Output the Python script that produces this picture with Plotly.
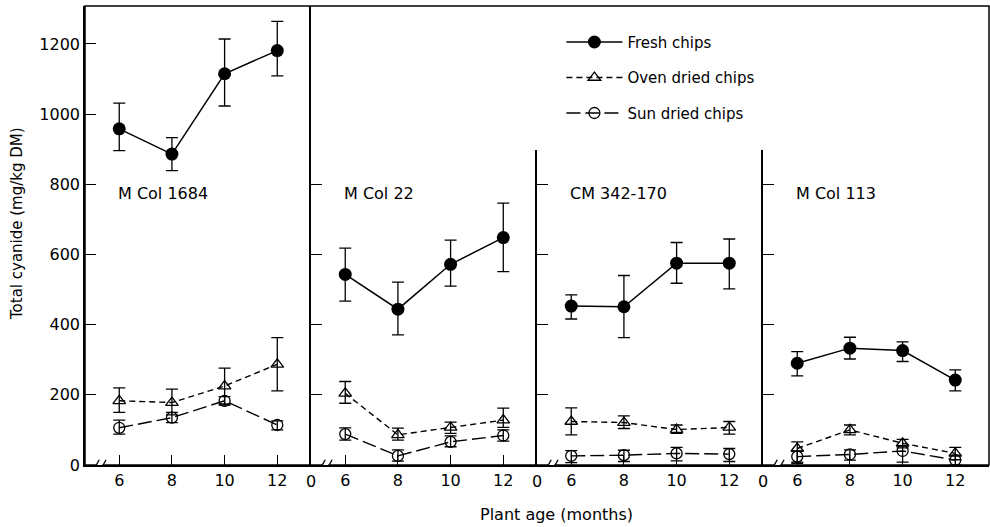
import plotly.graph_objects as go

# ---------------- data ----------------
months = [6, 8, 10, 12]
cultivars = ["M Col 1684", "M Col 22", "CM 342-170", "M Col 113"]

fresh = [[958, 886, 1115, 1181], [543, 444, 572, 648], [453, 451, 575, 575], [290, 333, 326, 242]]
fresh_up = [[73, 47, 99, 83], [75, 77, 69, 98], [32, 89, 59, 69], [33, 31, 25, 29]]
fresh_dn = [[62, 47, 92, 72], [76, 73, 62, 97], [37, 88, 57, 73], [36, 31, 31, 31]]

oven = [[183, 178, 225, 287], [204, 86, 107, 128], [124, 121, 101, 107], [47, 100, 62, 33]]
oven_up = [[37, 38, 51, 76], [34, 19, 15, 34], [39, 19, 13, 17], [19, 14, 11, 17]]
oven_dn = [[33, 35, 51, 76], [28, 15, 17, 21], [38, 17, 11, 19], [42, 14, 13, 18]]

sun = [[106, 135, 183, 114], [88, 26, 66, 84], [26, 28, 33, 31], [24, 30, 40, 14]]
sun_up = [[22, 15, 12, 12], [18, 17, 17, 16], [15, 14, 17, 16], [16, 13, 15, 14]]
sun_dn = [[18, 14, 12, 14], [17, 15, 14, 16], [19, 18, 21, 21], [16, 16, 32, 14]]

y_ticks_main = [0, 200, 400, 600, 800, 1000, 1200]
y_ticks_inner = [200, 400, 600, 800]

FONT = "DejaVu Sans"
X_RANGE = [4.7, 13.28]
Y_MAX = 1308
SHORT_FRAC = 0.6863

series = [
    ("Fresh chips", fresh, fresh_up, fresh_dn,
     dict(symbol="circle", size=13, color="black"),
     dict(color="black", width=1.5)),
    ("Oven dried chips", oven, oven_up, oven_dn,
     dict(symbol="triangle-up-open", size=11, color="black", line=dict(width=1.3, color="black")),
     dict(color="black", width=1.4, dash="6px,4px")),
    ("Sun dried chips", sun, sun_up, sun_dn,
     dict(symbol="circle-open", size=11, color="black", line=dict(width=1.3, color="black")),
     dict(color="black", width=1.4, dash="14px,5px")),
]

fig = go.Figure()
for p in range(4):
    xa = "x" if p == 0 else f"x{p+1}"
    ya = "y" if p == 0 else f"y{p+1}"
    for name, vals, up, dn, mk, ln in series:
        fig.add_trace(go.Scatter(
            x=months, y=vals[p], mode="lines+markers", name=name,
            legendgroup=name, showlegend=(p == 0),
            marker=mk, line=ln, xaxis=xa, yaxis=ya,
            error_y=dict(type="data", symmetric=False, array=up[p], arrayminus=dn[p],
                         color="black", thickness=1.3, width=6),
        ))

layout = dict(
    width=990, height=527,
    margin=dict(l=85, r=1, t=6, b=62),
    paper_bgcolor="white", plot_bgcolor="white",
    font=dict(family=FONT, color="black", size=15),
    legend=dict(x=0.527, y=0.957, xanchor="left", yanchor="top",
                font=dict(family=FONT, size=15, color="black"),
                itemwidth=56, tracegroupgap=13, bgcolor="rgba(0,0,0,0)",
                traceorder="grouped"),
    showlegend=True,
)

for k in range(1, 5):
    sx = "" if k == 1 else str(k)
    layout[f"xaxis{sx}"] = dict(
        domain=[(k - 1) / 4, k / 4], range=X_RANGE, anchor=f"y{sx}",
        tickvals=months, ticks="inside", ticklen=10, tickwidth=1.3, tickcolor="black",
        showline=True, linecolor="black", linewidth=1.5,
        showgrid=False, zeroline=False,
        tickfont=dict(family=FONT, size=16, color="black"),
    )
    if k == 1:
        layout["yaxis"] = dict(
            domain=[0, 1], range=[0, Y_MAX], anchor="x",
            tickvals=y_ticks_main, ticks="inside", ticklen=11, tickwidth=1.3, tickcolor="black",
            showline=True, linecolor="black", linewidth=1.5,
            showgrid=False, zeroline=False,
            tickfont=dict(family=FONT, size=16, color="black"),
        )
    else:
        frac = 1 if k == 2 else SHORT_FRAC
        layout[f"yaxis{sx}"] = dict(
            domain=[0, frac], range=[0, Y_MAX * frac], anchor=f"x{sx}",
            tickvals=y_ticks_inner, ticks="inside", ticklen=11, tickwidth=1.3, tickcolor="black",
            showticklabels=False,
            showline=True, linecolor="black", linewidth=1.5,
            showgrid=False, zeroline=False,
        )

shapes = [dict(type="rect", xref="paper", yref="paper", x0=0, x1=1, y0=0, y1=1,
               line=dict(color="black", width=1.5), layer="above")]
annotations = []
for k in range(1, 5):
    sx = "" if k == 1 else str(k)
    xr, yr = f"x{sx}", f"y{sx}"
    shapes.append(dict(type="rect", xref=xr, yref=yr, x0=5.12, x1=5.36, y0=-8, y1=8,
                       fillcolor="white", line=dict(width=0), layer="above"))
    shapes.append(dict(type="line", xref=xr, yref=yr, x0=5.02, x1=5.24, y0=-15, y1=15,
                       line=dict(color="black", width=1.3), layer="above"))
    shapes.append(dict(type="line", xref=xr, yref=yr, x0=5.28, x1=5.5, y0=-15, y1=15,
                       line=dict(color="black", width=1.3), layer="above"))
    annotations.append(dict(text=cultivars[k - 1], xref=xr, yref=yr, x=5.88, y=775,
                            xanchor="left", yanchor="middle", showarrow=False,
                            font=dict(family=FONT, size=16, color="black")))
    if k > 1:
        annotations.append(dict(text="0", xref=xr, yref=yr, x=X_RANGE[0], y=0,
                                xanchor="center", yanchor="top", yshift=-5, showarrow=False,
                                font=dict(family=FONT, size=16, color="black")))

annotations.append(dict(text="Total cyanide (mg/kg DM)", xref="paper", yref="paper",
                        x=-0.0752, y=0.525, textangle=-90, showarrow=False,
                        xanchor="center", yanchor="middle",
                        font=dict(family=FONT, size=15, color="black")))
annotations.append(dict(text="Plant age (months)", xref="paper", yref="paper",
                        x=0.522, y=-0.1068, showarrow=False,
                        xanchor="center", yanchor="middle",
                        font=dict(family=FONT, size=16, color="black")))

layout["shapes"] = shapes
layout["annotations"] = annotations
fig.update_layout(**layout)
fig.write_html("out.html")
